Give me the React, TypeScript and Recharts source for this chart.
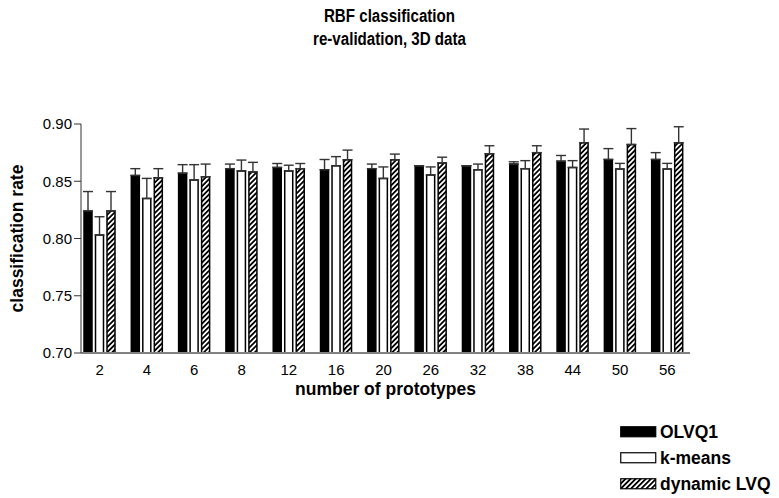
import React from 'react';
import { BarChart, Bar, XAxis, YAxis, ErrorBar, Label } from 'recharts';

const prototypes = ['2', '4', '6', '8', '12', '16', '20', '26', '32', '38', '44', '50', '56'];
const yTicks = [0.7, 0.75, 0.8, 0.85, 0.9];

const olvq1 = [0.824, 0.855, 0.857, 0.861, 0.862, 0.860, 0.861, 0.8635, 0.8635, 0.865, 0.8675, 0.869, 0.869];
const olvq1Err = [0.017, 0.006, 0.0075, 0.004, 0.0035, 0.009, 0.004, 0, 0, 0.002, 0.005, 0.0095, 0.006];
const kmeans = [0.803, 0.835, 0.851, 0.859, 0.859, 0.8635, 0.8525, 0.8555, 0.86, 0.861, 0.862, 0.8606, 0.8606];
const kmeansErr = [0.016, 0.0175, 0.0135, 0.0095, 0.005, 0.008, 0.01, 0.007, 0.005, 0.007, 0.006, 0.005, 0.005];
const dynLvq = [0.824, 0.853, 0.854, 0.858, 0.861, 0.8687, 0.8687, 0.866, 0.874, 0.875, 0.8836, 0.882, 0.8836];
const dynLvqErr = [0.017, 0.008, 0.011, 0.0085, 0.0045, 0.0085, 0.005, 0.005, 0.007, 0.006, 0.012, 0.014, 0.014];

const FONT = '"Liberation Sans", Arial, sans-serif';

// upper whisker only -> [low, high]
const data = prototypes.map((p, i) => ({
  name: p,
  olvq1: olvq1[i],
  olvq1Err: [0, olvq1Err[i]],
  kmeans: kmeans[i],
  kmeansErr: [0, kmeansErr[i]],
  dyn: dynLvq[i],
  dynErr: [0, dynLvqErr[i]],
}));

const legendItems = [
  { label: 'OLVQ1', fill: '#000' },
  { label: 'k-means', fill: '#fff' },
  { label: 'dynamic LVQ', fill: 'url(#hatch)' },
];

const titleLine = { transform: 'scaleX(0.84)', transformOrigin: 'center' } as const;

export default function App() {
  return (
    <div style={{ position: 'absolute', left: 0, top: 0, width: 779, height: 498, background: '#fff', fontFamily: FONT }}>
      <svg width={0} height={0} style={{ position: 'absolute' }}>
        <defs>
          <pattern id="hatch" patternUnits="userSpaceOnUse" width={3.6} height={3.6} patternTransform="rotate(45)">
            <rect width={3.6} height={3.6} fill="#fff" />
            <line x1={0.9} y1={0} x2={0.9} y2={3.6} stroke="#000" strokeWidth={1.8} />
          </pattern>
        </defs>
      </svg>

      {/* title */}
      <div style={{ position: 'absolute', left: 0, width: 779, top: 5, textAlign: 'center', fontWeight: 'bold', fontSize: 18, lineHeight: '23px', color: '#000' }}>
        <div style={titleLine}>RBF classification</div>
        <div style={titleLine}>re-validation, 3D data</div>
      </div>

      <BarChart
        width={779}
        height={498}
        data={data}
        margin={{ top: 124, right: 89, bottom: 103, left: 8 }}
        barSize={8}
        barGap={3.5}
      >
        <XAxis
          dataKey="name"
          tickLine={false}
          axisLine={{ stroke: '#808080', strokeWidth: 2 }}
          tick={{ fill: '#000', fontSize: 15, fontFamily: FONT }}
          tickMargin={5}
          padding={{ left: -5, right: -1 }}
          height={42}
        >
          <Label
            value="number of prototypes"
            position="insideBottom"
            offset={0}
            style={{ fontWeight: 'bold', fontSize: 17.5, fill: '#000', fontFamily: FONT }}
          />
        </XAxis>
        <YAxis
          domain={[0.7, 0.9]}
          ticks={yTicks}
          allowDataOverflow
          width={73}
          tickSize={7}
          tickMargin={2}
          tickFormatter={(v: number) => v.toFixed(2)}
          axisLine={{ stroke: '#333' }}
          tickLine={{ stroke: '#333' }}
          tick={{ fill: '#000', fontSize: 15, fontFamily: FONT }}
        >
          <Label
            value="classification rate"
            angle={-90}
            position="insideLeft"
            offset={9}
            style={{ fontWeight: 'bold', fontSize: 17.5, fill: '#000', fontFamily: FONT, textAnchor: 'middle' }}
          />
        </YAxis>
        <Bar dataKey="olvq1" fill="#000" stroke="#000" strokeWidth={1.5} isAnimationActive={false}>
          <ErrorBar dataKey="olvq1Err" width={5} stroke="#333" strokeWidth={1.4} isAnimationActive={false} />
        </Bar>
        <Bar dataKey="kmeans" fill="#fff" stroke="#000" strokeWidth={1.5} isAnimationActive={false}>
          <ErrorBar dataKey="kmeansErr" width={5} stroke="#333" strokeWidth={1.4} isAnimationActive={false} />
        </Bar>
        <Bar dataKey="dyn" fill="url(#hatch)" stroke="#000" strokeWidth={1.5} isAnimationActive={false}>
          <ErrorBar dataKey="dynErr" width={5} stroke="#333" strokeWidth={1.4} isAnimationActive={false} />
        </Bar>
      </BarChart>

      {/* legend */}
      {legendItems.map((it, i) => (
        <div key={it.label} style={{ position: 'absolute', left: 620, top: 422 + i * 26, height: 20, display: 'flex', alignItems: 'center' }}>
          <svg width={37} height={12} style={{ marginRight: 3 }}>
            <rect x={0.75} y={0.75} width={35} height={10} fill={it.fill} stroke="#000" strokeWidth={1.2} />
          </svg>
          <span style={{ fontWeight: 'bold', fontSize: 17.5, color: '#000' }}>{it.label}</span>
        </div>
      ))}
    </div>
  );
}
